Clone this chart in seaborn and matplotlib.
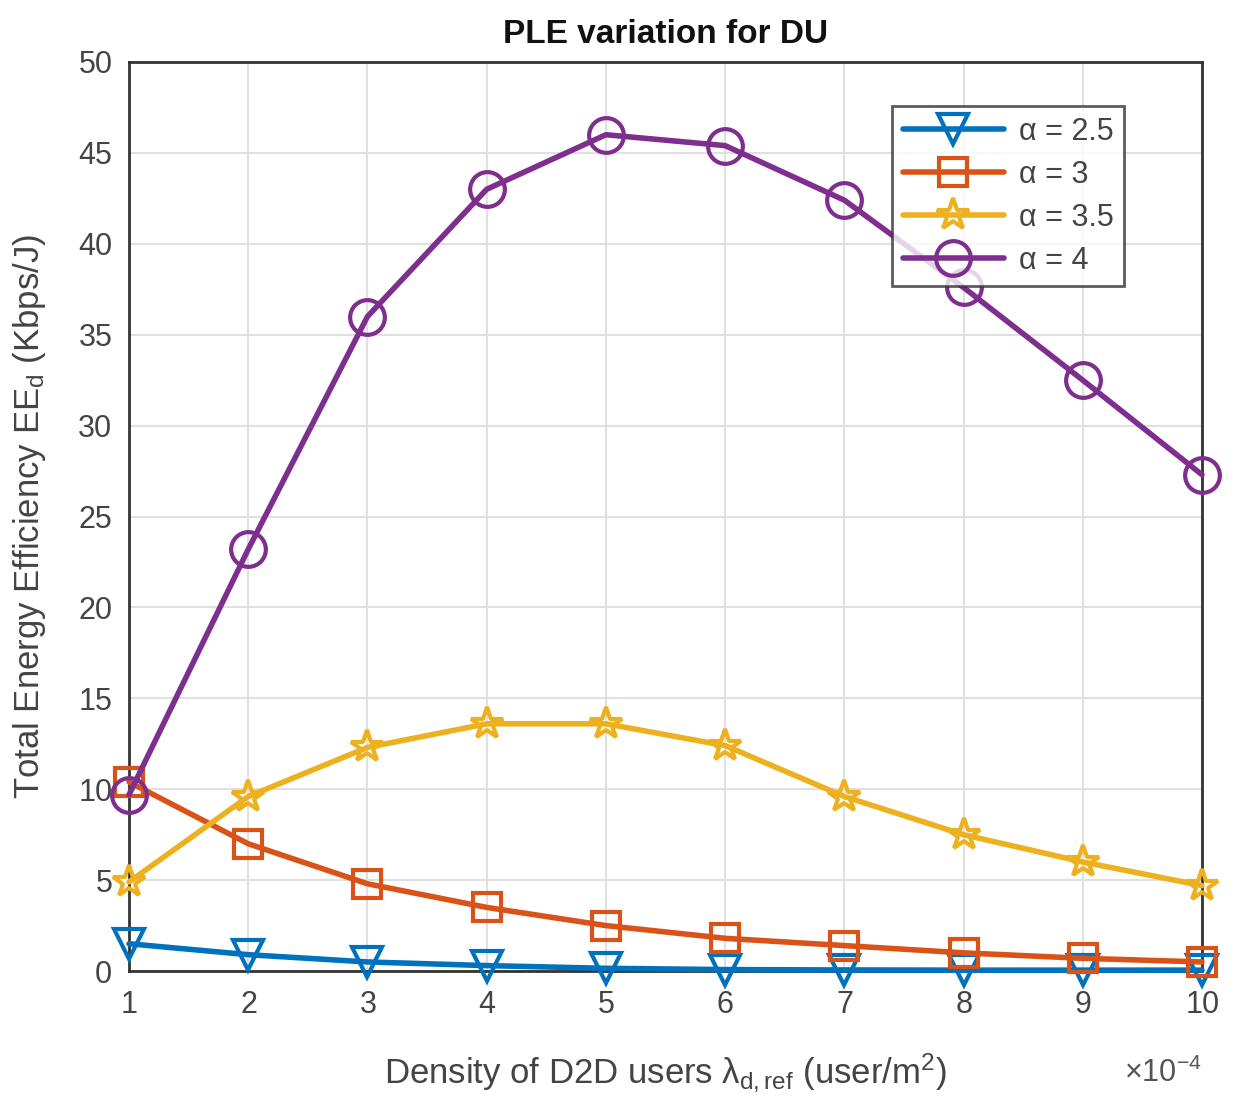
import numpy as np
import pandas as pd
import matplotlib
matplotlib.use("Agg")
import matplotlib.pyplot as plt
import seaborn as sns
from matplotlib.ticker import ScalarFormatter

# D2D user density (users/m^2)
density = [1e-4, 2e-4, 3e-4, 4e-4, 5e-4, 6e-4, 7e-4, 8e-4, 9e-4, 10e-4]

# Total energy efficiency (Kbps/J) for each path-loss exponent
ee_alpha_25 = [1.5, 0.9, 0.5, 0.3, 0.15, 0.08, 0.06, 0.05, 0.05, 0.05]
ee_alpha_3 = [10.4, 7.0, 4.8, 3.5, 2.5, 1.8, 1.4, 1.0, 0.7, 0.5]
ee_alpha_35 = [4.9, 9.6, 12.3, 13.6, 13.6, 12.4, 9.6, 7.5, 6.0, 4.7]
ee_alpha_4 = [9.7, 23.2, 36.0, 43.0, 46.0, 45.4, 42.4, 37.6, 32.5, 27.3]

labels = ["α = 2.5", "α = 3", "α = 3.5", "α = 4"]
series = [ee_alpha_25, ee_alpha_3, ee_alpha_35, ee_alpha_4]
colors = ["#0072BD", "#D95319", "#EDB120", "#7E2F8E"]
markers = ["v", "s", "*", "o"]
sizes = [22, 20, 24, 25]

sns.set_theme(style="whitegrid")
plt.rcParams["font.family"] = ["Liberation Sans", "DejaVu Sans"]
plt.rcParams["mathtext.fontset"] = "custom"
plt.rcParams["mathtext.rm"] = "Liberation Sans"
plt.rcParams["mathtext.it"] = "Liberation Sans"

fig = plt.figure(figsize=(12.37, 11.09), dpi=100)
ax = fig.add_axes([0.1043, 0.1244, 0.8674, 0.8197])

for lab, vals, col, mk, ms in zip(labels, series, colors, markers, sizes):
    df = pd.DataFrame({"density": density, "ee": vals})
    sns.lineplot(data=df, x="density", y="ee", ax=ax, color=col, marker=mk,
                 markersize=ms, markerfacecolor="none", markeredgecolor=col,
                 markeredgewidth=3, linewidth=4, label=lab, clip_on=False, zorder=3)

ax.set_xlim(1e-4, 10e-4)
ax.set_ylim(0, 50)
ax.set_xticks(density)
ax.set_yticks(np.arange(0, 51, 5))
fmt = ScalarFormatter(useMathText=True)
fmt.set_powerlimits((-4, -4))
ax.xaxis.set_major_formatter(fmt)
ax.xaxis.get_offset_text().set_visible(False)
ax.text(1.0, -0.113, r"$\times10^{-4}$", transform=ax.transAxes, ha="right", va="center",
        fontsize=22, color="#555555")

ax.tick_params(axis="both", labelsize=22, colors="#333333", labelcolor="#444444",
               direction="in", length=8, width=1.2)
ax.tick_params(axis="x", pad=14)
ax.tick_params(axis="y", pad=12)
ax.grid(True, color="#e0e0e0", linewidth=1.5)
for s in ax.spines.values():
    s.set_visible(True)
    s.set_color("#333333")
    s.set_linewidth(2)

ax.set_title("PLE variation for DU", fontsize=24, fontweight="bold", color="#111111", pad=14)
ax.set_xlabel(r"Density of D2D users $\lambda_{\mathrm{d,ref}}$ (user/m$^2$)",
              fontsize=25, color="#444444", labelpad=22)
ax.set_ylabel(r"Total Energy Efficiency EE$_{\mathrm{d}}$ (Kbps/J)",
              fontsize=25, color="#444444", labelpad=22)

leg = ax.legend(loc="upper right", bbox_to_anchor=(0.942, 0.968), fontsize=22,
                frameon=True, fancybox=False, edgecolor="#333333",
                handlelength=3.3, borderpad=0.35, labelspacing=0.42, handletextpad=0.5)
leg.get_frame().set_linewidth(2)
for t in leg.get_texts():
    t.set_color("#444444")

fig.savefig("out.png", dpi=100)
